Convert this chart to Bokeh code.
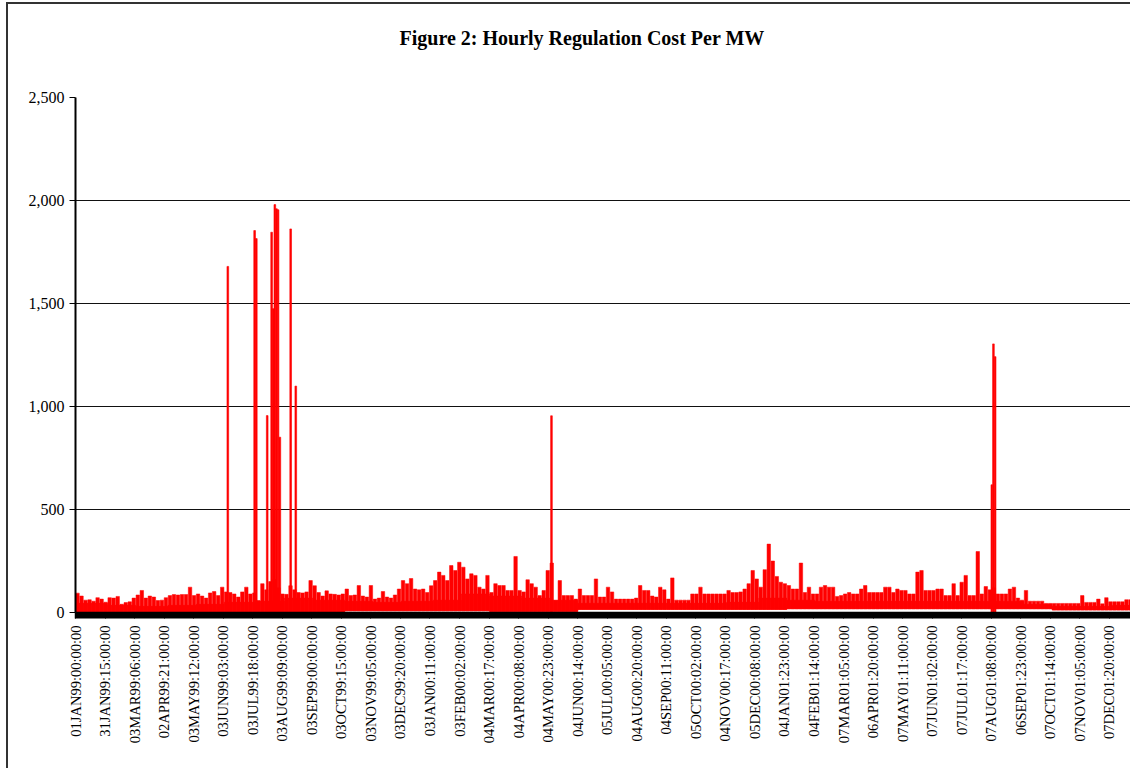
import math
from bokeh.plotting import figure
from bokeh.models import Range1d, FixedTicker, NumeralTickFormatter, Title, ColumnDataSource
from bokeh.embed import file_html
from bokeh.resources import INLINE

# ---------------- data ----------------
title_text = "Figure 2: Hourly Regulation Cost Per MW"
tick_labels = [
    "01JAN99:00:00:00", "31JAN99:15:00:00", "03MAR99:06:00:00", "02APR99:21:00:00",
    "03MAY99:12:00:00", "03JUN99:03:00:00", "03JUL99:18:00:00", "03AUG99:09:00:00",
    "03SEP99:00:00:00", "03OCT99:15:00:00", "03NOV99:05:00:00", "03DEC99:20:00:00",
    "03JAN00:11:00:00", "03FEB00:02:00:00", "04MAR00:17:00:00", "04APR00:08:00:00",
    "04MAY00:23:00:00", "04JUN00:14:00:00", "05JUL00:05:00:00", "04AUG00:20:00:00",
    "04SEP00:11:00:00", "05OCT00:02:00:00", "04NOV00:17:00:00", "05DEC00:08:00:00",
    "04JAN01:23:00:00", "04FEB01:14:00:00", "07MAR01:05:00:00", "06APR01:20:00:00",
    "07MAY01:11:00:00", "07JUN01:02:00:00", "07JUL01:17:00:00", "07AUG01:08:00:00",
    "06SEP01:23:00:00", "07OCT01:14:00:00", "07NOV01:05:00:00", "07DEC01:20:00:00",
]
HOURS_PER_LABEL = 735      # one category label every 735 hourly categories
BIN_HOURS = 100            # envelope read in 100-hour blocks

# upper envelope of the hourly cost ($/MW) per 100-hour block
bin_peak = [
    94, 80, 60, 62, 55, 72, 65, 50, 72, 70,
    78, 40, 48, 52, 70, 85, 107, 70, 80, 75,
    58, 60, 72, 82, 87, 85, 87, 87, 123, 82,
    90, 80, 70, 95, 102, 82, 123, 100, 97, 90,
    75, 100, 123, 90, 95, 58, 140, 110, 150, 160,
    120, 90, 88, 130, 110, 97, 95, 100, 155, 130,
    97, 80, 105, 90, 88, 85, 90, 114, 82, 85,
    131, 80, 75, 131, 65, 70, 102, 75, 70, 85,
    114, 155, 140, 165, 114, 110, 114, 97, 130, 155,
    196, 180, 155, 228, 204, 244, 220, 163, 188, 180,
    123, 114, 180, 97, 140, 131, 131, 107, 107, 272,
    107, 100, 159, 140, 123, 82, 107, 204, 240, 58,
    155, 82, 82, 82, 65, 114, 82, 82, 82, 163,
    75, 75, 123, 100, 65, 65, 65, 65, 65, 70,
    131, 107, 107, 80, 75, 123, 110, 65, 168, 60,
    60, 60, 60, 90, 90, 123, 90, 90, 90, 90,
    90, 90, 107, 97, 97, 100, 114, 140, 204, 163,
    123, 208, 332, 250, 175, 147, 140, 131, 114, 114,
    240, 97, 123, 90, 90, 123, 131, 123, 123, 78,
    82, 90, 97, 90, 90, 114, 131, 97, 97, 97,
    97, 123, 123, 97, 114, 107, 107, 90, 90, 196,
    204, 107, 107, 107, 114, 114, 82, 82, 140, 82,
    147, 180, 82, 82, 296, 90, 126, 110, 120, 90,
    90, 90, 114, 123, 70, 60, 107, 55, 55, 55,
    55, 44, 44, 44, 44, 44, 44, 44, 44, 44,
    82, 49, 49, 49, 65, 42, 72, 52, 52, 52,
    52, 62, 62,
]

# lowest hourly cost seen in each labelled interval
interval_low = [
    0, 0, 0, 0, 0, 0, 0, 0, 0, 8,
    8, 8, 8, 8, 5, 5, 5, 15, 15, 15,
    15, 15, 15, 15, 18, 18, 18, 18, 18, 18,
    18, 18, 18, 12, 12, 12,
]

# level up to which the hourly trace is densely packed, per labelled interval
interval_body = [
    45, 35, 30, 35, 40, 50, 55, 70, 60, 55,
    50, 55, 60, 90, 80, 70, 60, 45, 45, 45,
    45, 45, 50, 70, 60, 55, 55, 55, 55, 55,
    55, 55, 40, 30, 30, 35,
]

# isolated price spikes (hour index, $/MW)
spike_hour = [3790, 4457, 4499, 4770, 4880, 4920, 4960, 5000, 5040, 5085,
              5354, 5481, 11843, 22800, 22840, 22882]
spike_value = [1680, 1854, 1815, 956, 1846, 1475, 1980, 1960, 1955, 851,
               1862, 1099, 955, 620, 1304, 1242]

# ---------------- build ----------------
n_bins = len(bin_peak)
x_end = n_bins * BIN_HOURS
bin_x = [i * BIN_HOURS + BIN_HOURS / 2 for i in range(n_bins)]


def interval_of(i):
    return min(int(i * BIN_HOURS // HOURS_PER_LABEL), len(interval_low) - 1)


bin_low = [interval_low[interval_of(i)] for i in range(n_bins)]
bin_body = [max(interval_body[interval_of(i)], bin_low[i]) for i in range(n_bins)]

body = ColumnDataSource(dict(x=bin_x, top=bin_body, bottom=bin_low))
env = ColumnDataSource(dict(x=bin_x, top=bin_peak, bottom=bin_low))
spk = ColumnDataSource(dict(x=spike_hour, top=spike_value,
                            bottom=[0] * len(spike_hour)))

SERIF = "Liberation Serif"
RED = "#FF0000"

p = figure(width=1124, height=766, output_backend="svg", toolbar_location=None,
           x_range=Range1d(0, x_end), y_range=Range1d(0, 2500),
           min_border_left=67, min_border_right=0, min_border_top=93,
           min_border_bottom=158)
p.styles = {"margin-left": "6px", "margin-top": "2px",
            "border-left": "2px solid #333333", "border-top": "2px solid #333333"}
p.outline_line_color = None
p.background_fill_color = "white"
p.border_fill_color = "white"

# main title (outermost) with a blank spacer title between it and the plot area
p.title = Title(text=title_text, align="left", offset=324, text_font=SERIF,
                text_font_size="20px", text_font_style="bold", text_color="black",
                standoff=39)
p.add_layout(Title(text=" ", text_font_size="10px", standoff=16), "above")

# dense body of the hourly trace, then the 100-hour envelope spikes, then big spikes
p.vbar(x="x", width=BIN_HOURS, top="top", bottom="bottom", source=body,
       fill_color=RED, line_color=RED, line_width=0.5)
p.vbar(x="x", width=86, top="top", bottom="bottom", source=env,
       fill_color=RED, line_color=RED, line_width=0.5)
p.vbar(x="x", width=42, top="top", bottom="bottom", source=spk,
       fill_color=RED, line_color=RED, line_width=0.6)

# y axis
p.yaxis.ticker = FixedTicker(ticks=[0, 500, 1000, 1500, 2000, 2500])
p.yaxis.formatter = NumeralTickFormatter(format="0,0")
p.yaxis.axis_line_color = "black"
p.yaxis.axis_line_width = 2
p.yaxis.major_tick_out = 6
p.yaxis.major_tick_in = 0
p.yaxis.minor_tick_line_color = None
p.yaxis.major_label_text_font = SERIF
p.yaxis.major_label_text_font_size = "16px"
p.yaxis.major_label_text_color = "black"
p.yaxis.major_label_standoff = 5

p.ygrid.ticker = FixedTicker(ticks=[500, 1000, 1500, 2000, 2500])
p.ygrid.grid_line_color = "#111111"
p.ygrid.grid_line_width = 1
p.xgrid.visible = False

# x axis: a label every 735 categories, dense category tick marks below
label_pos = [i * HOURS_PER_LABEL for i in range(len(tick_labels))]
p.xaxis.ticker = FixedTicker(ticks=label_pos,
                             minor_ticks=list(range(0, x_end, 24)))
p.xaxis.major_label_overrides = {pos: lab for pos, lab in zip(label_pos, tick_labels)}
p.xaxis.major_label_orientation = math.pi / 2
p.xaxis.major_label_text_font = SERIF
p.xaxis.major_label_text_font_size = "14.5px"
p.xaxis.major_label_text_color = "black"
p.xaxis.major_label_standoff = 7
p.xaxis.axis_line_color = "black"
p.xaxis.axis_line_width = 1.5
p.xaxis.major_tick_out = 6
p.xaxis.major_tick_in = 0
p.xaxis.major_tick_line_color = "black"
p.xaxis.minor_tick_out = 6
p.xaxis.minor_tick_in = 0
p.xaxis.minor_tick_line_color = "black"
p.xaxis.minor_tick_line_width = 1.5

open("out.html", "w").write(file_html(p, INLINE))
